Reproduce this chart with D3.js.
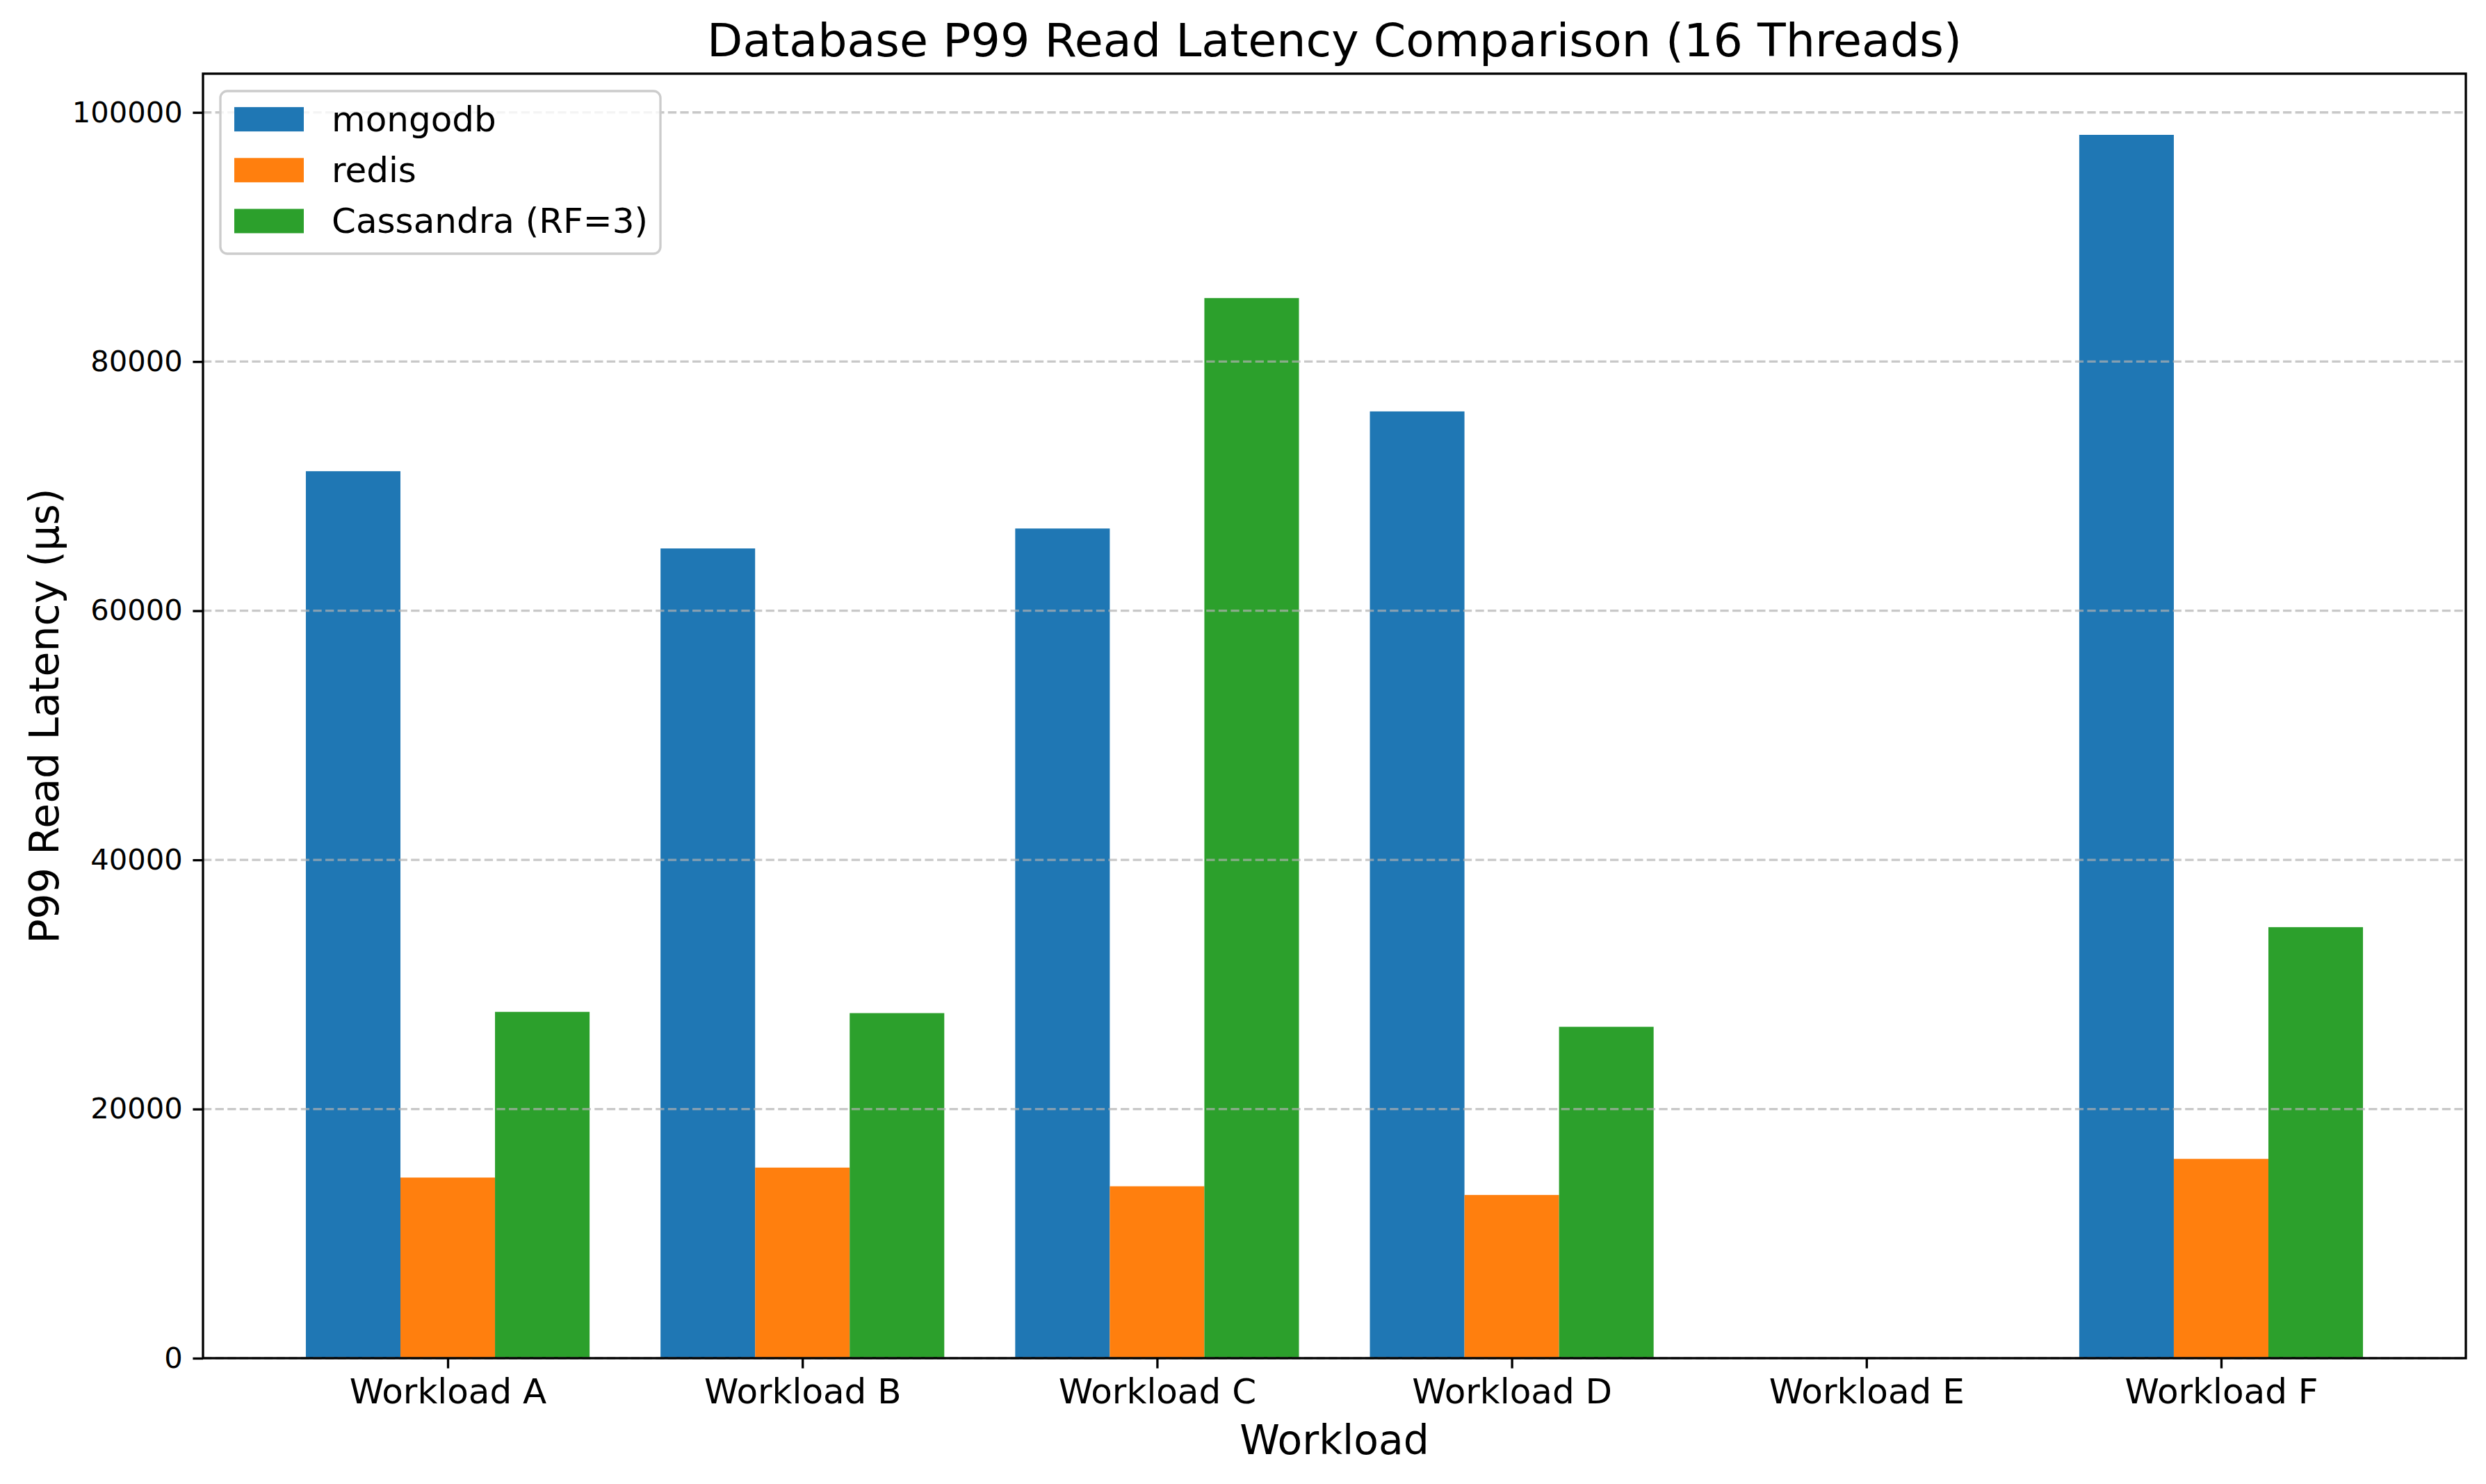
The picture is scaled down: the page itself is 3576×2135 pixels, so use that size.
<!DOCTYPE html>
<html>
<head>
<meta charset="utf-8">
<script src="https://cdn.jsdelivr.net/npm/d3@7"></script>
<style>
  html, body { margin: 0; padding: 0; background: #fff; }
  svg { display: block; font-family: "DejaVu Sans", sans-serif; }
</style>
</head>
<body>
<svg id="chart" width="3576" height="2135"></svg>
<script>
// ---- data ----
const categories = ["Workload A", "Workload B", "Workload C", "Workload D", "Workload E", "Workload F"];
const seriesNames = ["mongodb", "redis", "Cassandra (RF=3)"];
const mongodb   = [71200, 65000, 66600, 76000, 0, 98200];
const redis     = [14500, 15300, 13800, 13100, 0, 16000];
const cassandra = [27800, 27700, 85100, 26600, 0, 34600];
const yTicks = [0, 20000, 40000, 60000, 80000, 100000];
const colors = ["#1f77b4", "#ff7f0e", "#2ca02c"];

(function () {
const series = [mongodb, redis, cassandra];

// ---- layout ----
const W = 3576, H = 2135;
const pL = 292, pR = 3547, pT = 106, pB = 1954;
const lw = 3.33;

const svg = d3.select("#chart");
svg.append("rect").attr("width", W).attr("height", H).attr("fill", "#fff");

const n = categories.length;
const bw = 0.8 / series.length;
const lo = -1.5 * bw, hi = (n - 1) + 1.5 * bw;
const m = 0.05 * (hi - lo);
const x = d3.scaleLinear().domain([lo - m, hi + m]).range([pL, pR]);

const maxV = d3.max(series.flat());
const y = d3.scaleLinear().domain([0, maxV * 1.05]).range([pB, pT]);

// bars
series.forEach((vals, j) => {
  svg.append("g").selectAll("rect").data(vals).join("rect")
    .attr("x", (d, i) => x(i + (j - 1) * bw - bw / 2))
    .attr("width", x(bw) - x(0))
    .attr("y", d => y(d))
    .attr("height", d => y(0) - y(d))
    .attr("fill", colors[j]);
});

// grid (drawn above bars, like matplotlib axis zorder)
svg.append("g").selectAll("line").data(yTicks).join("line")
  .attr("x1", pL).attr("x2", pR)
  .attr("y1", d => y(d)).attr("y2", d => y(d))
  .attr("stroke", "#b0b0b0").attr("stroke-opacity", 0.7)
  .attr("stroke-width", lw).attr("stroke-dasharray", "12.3,5.3");

// y axis
const yAxis = d3.axisLeft(y).tickValues(yTicks).tickFormat(d3.format("d"))
  .tickSize(14.6).tickPadding(14.6);
const gy = svg.append("g").attr("transform", `translate(${pL},0)`).call(yAxis);
gy.select(".domain").remove();
gy.selectAll(".tick line").attr("stroke", "#000").attr("stroke-width", lw);
gy.selectAll(".tick text").attr("font-size", 41.67).attr("fill", "#000")
  .attr("font-family", "DejaVu Sans");

// x axis
const xAxis = d3.axisBottom(x).tickValues(d3.range(n)).tickFormat(i => categories[i])
  .tickSize(14.6).tickPadding(14.6);
const gx = svg.append("g").attr("transform", `translate(0,${pB})`).call(xAxis);
gx.select(".domain").remove();
gx.selectAll(".tick line").attr("stroke", "#000").attr("stroke-width", lw);
gx.selectAll(".tick text").attr("font-size", 50).attr("fill", "#000")
  .attr("font-family", "DejaVu Sans");

// spines
svg.append("rect").attr("x", pL).attr("y", pT)
  .attr("width", pR - pL).attr("height", pB - pT)
  .attr("fill", "none").attr("stroke", "#000").attr("stroke-width", lw);

// title
svg.append("text").attr("x", (pL + pR) / 2).attr("y", 81)
  .attr("text-anchor", "middle").attr("font-size", 66.67).attr("fill", "#000")
  .text("Database P99 Read Latency Comparison (16 Threads)");

// axis labels
svg.append("text").attr("x", (pL + pR) / 2).attr("y", 2092)
  .attr("text-anchor", "middle").attr("font-size", 58.33).attr("fill", "#000")
  .text("Workload");
svg.append("text")
  .attr("transform", `translate(64,${(pT + pB) / 2}) rotate(-90)`)
  .attr("text-anchor", "middle").attr("dominant-baseline", "central")
  .attr("font-size", 58.33).attr("fill", "#000")
  .text("P99 Read Latency (μs)");

// legend
const lg = svg.append("g");
lg.append("rect").attr("x", 317).attr("y", 131).attr("width", 633).attr("height", 234)
  .attr("rx", 10).attr("ry", 10)
  .attr("fill", "#fff").attr("fill-opacity", 0.8)
  .attr("stroke", "#cccccc").attr("stroke-width", lw);
const rowY = [171.6, 244.8, 318];
seriesNames.forEach((name, j) => {
  lg.append("rect").attr("x", 337).attr("y", rowY[j] - 17.5)
    .attr("width", 100).attr("height", 35).attr("fill", colors[j]);
  lg.append("text").attr("x", 477).attr("y", rowY[j])
    .attr("dominant-baseline", "central")
    .attr("font-size", 50).attr("fill", "#000").text(name);
});
})();
</script>
</body>
</html>
